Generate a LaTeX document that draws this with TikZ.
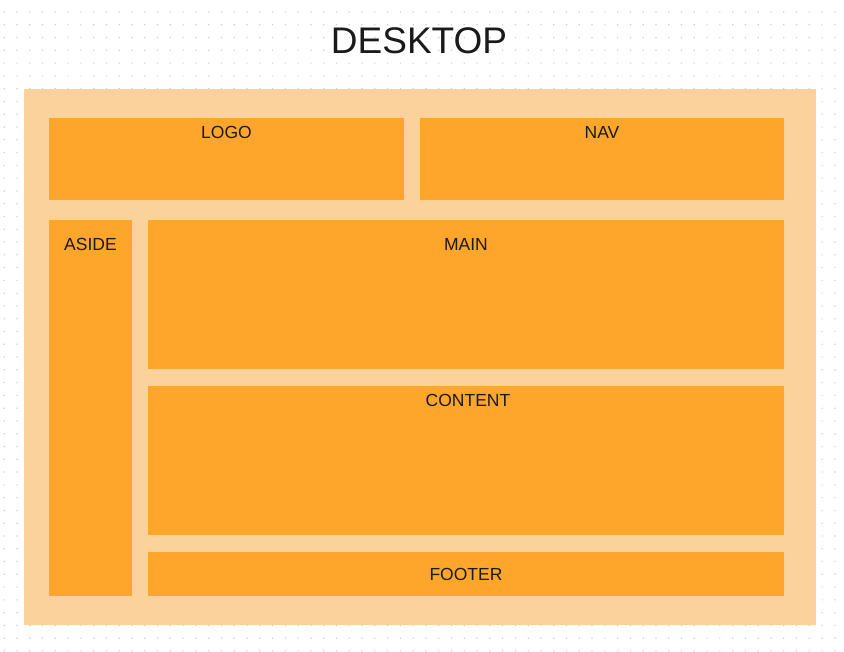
\documentclass[tikz,border=0pt]{standalone}
\usepackage{fontspec}
\setmainfont{Liberation Sans}
\definecolor{outerc}{RGB}{252,210,156}
\definecolor{innerc}{RGB}{254,166,43}
\definecolor{txtc}{RGB}{26,26,26}
\definecolor{dotc}{RGB}{205,205,205}
\begin{document}
\begin{tikzpicture}[x=1pt,y=-1pt,
  box/.style={fill=innerc, draw=none, inner sep=0pt, rectangle},
  lbl/.style={text=txtc, font=\fontsize{17.5}{20}\selectfont, inner sep=0pt, anchor=base}]
\useasboundingbox (0,0) rectangle (844,652);
\fill[white] (0,0) rectangle (844,652);
\fill[dotc] \foreach \i in {0,...,65} { \foreach \j in {0,...,50} { (3.6+\i*12.78, 11.4+\j*12.78) rectangle ++(1.2,1.2) } };
\node[text=txtc, font=\fontsize{37}{40}\selectfont, inner sep=0pt, anchor=base] (title) at (419,54) {DESKTOP};
\node[fill=outerc, draw=none, inner sep=0pt, minimum width=792pt, minimum height=536pt] (outer) at (420,357) {};
\node[box, minimum width=355pt, minimum height=82pt] (logo) at (226.5,159) {};
\node[box, minimum width=364pt, minimum height=82pt] (nav) at (602,159) {};
\node[box, minimum width=83pt, minimum height=376pt] (aside) at (90.5,408) {};
\node[box, minimum width=636pt, minimum height=149pt] (main) at (466,294.5) {};
\node[box, minimum width=636pt, minimum height=149pt] (content) at (466,460.5) {};
\node[box, minimum width=636pt, minimum height=44pt] (footer) at (466,574) {};
\node[lbl] (logoL) at ([yshift=-20.5pt]logo.north) {LOGO};
\node[lbl] (navL) at ([yshift=-20.5pt]nav.north) {NAV};
\node[lbl] (asideL) at ([yshift=-31pt]aside.north) {ASIDE};
\node[lbl] (mainL) at ([yshift=-31pt]main.north) {MAIN};
\node[lbl] (contentL) at ([xshift=2pt,yshift=-20.5pt]content.north) {CONTENT};
\node[lbl] (footerL) at ([yshift=-6.2pt]footer.center) {FOOTER};
\end{tikzpicture}
\end{document}
